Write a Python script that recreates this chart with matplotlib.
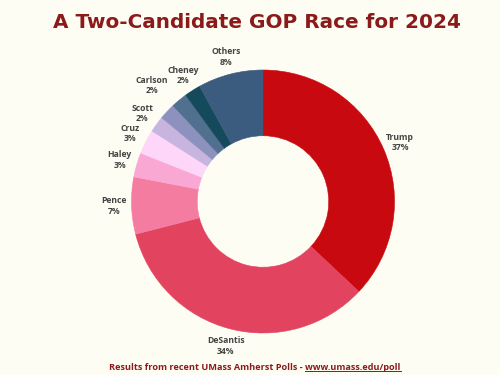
import numpy as np
import matplotlib
matplotlib.use("Agg")
import matplotlib.pyplot as plt

# ---- data ----
candidates = ["Trump", "DeSantis", "Pence", "Haley", "Cruz", "Scott", "Carlson", "", "Cheney", "Others"]
shares = [37, 34, 7, 3, 3, 2, 2, 2, 2, 8]
pct_labels = ["37%", "34%", "7%", "3%", "3%", "2%", "2%", "", "2%", "8%"]
colors = ["#c8090f", "#e2435f", "#f47ca0", "#f9a8d3", "#fdd6fa", "#c7b5df",
          "#8d91be", "#51708f", "#154a5c", "#3b5b7f"]
title = "A Two-Candidate GOP Race for 2024"
footer_left = "Results from recent UMass Amherst Polls - "
footer_url = "www.umass.edu/poll"

BG = "#fdfdf3"
DARKRED = "#8b1a1a"
LABEL = "#444444"
FONT = "Open Sans"

W, H = 500, 375
fig = plt.figure(figsize=(5, 3.75), dpi=100, facecolor=BG)
ax = fig.add_axes([0, 0, 1, 1])
ax.set_facecolor(BG)

wedges, _ = ax.pie(shares, colors=colors, startangle=90, counterclock=False,
                   radius=1.0, wedgeprops=dict(width=0.5, linewidth=0.4))
for w, c in zip(wedges, colors):
    w.set_edgecolor(c)

cx, cy, R = 263.0, 201.5, 131.5  # pixel center/radius of the donut
ax.set_xlim(-cx / R, (W - cx) / R)
ax.set_ylim(-(H - cy) / R, cy / R)
ax.set_aspect("equal")
ax.axis("off")

# labels at mid-angles
total = float(sum(shares))
cum = 0.0
nudge = {"Carlson": (3.0, 1.22)}
for name, v, p in zip(candidates, shares, pct_labels):
    mid = 360.0 * (cum + v / 2.0) / total
    cum += v
    if not name:
        continue
    dth, r = nudge.get(name, (0.0, 1.135))
    th = np.deg2rad(mid + dth)
    ax.text(r * np.sin(th), r * np.cos(th), f"{name}\n{p}", ha="center", va="center",
            fontsize=6.2, fontweight="bold", color=LABEL, family=FONT, linespacing=1.2)

fig.text(256.5 / W, 1 - 22 / H, title, ha="center", va="center", fontsize=14.4,
         fontweight="bold", color=DARKRED, family="DejaVu Sans")

ft = fig.text(255 / W, 1 - 367 / H, footer_left + footer_url, ha="center", va="center",
              fontsize=6.6, fontweight="bold", color=DARKRED, family=FONT)
renderer = fig.canvas.get_renderer()
bb = ft.get_window_extent(renderer)
tmp = fig.text(0, 0, footer_url, fontsize=6.6, fontweight="bold", family=FONT)
uw = tmp.get_window_extent(renderer).width
tmp.remove()
uy = bb.y0 + 0.5
fig.add_artist(plt.Line2D([(bb.x1 - uw) / W, bb.x1 / W], [uy / H, uy / H],
                          color=DARKRED, linewidth=0.7, transform=fig.transFigure))

fig.savefig("out.png", dpi=100, facecolor=BG)
